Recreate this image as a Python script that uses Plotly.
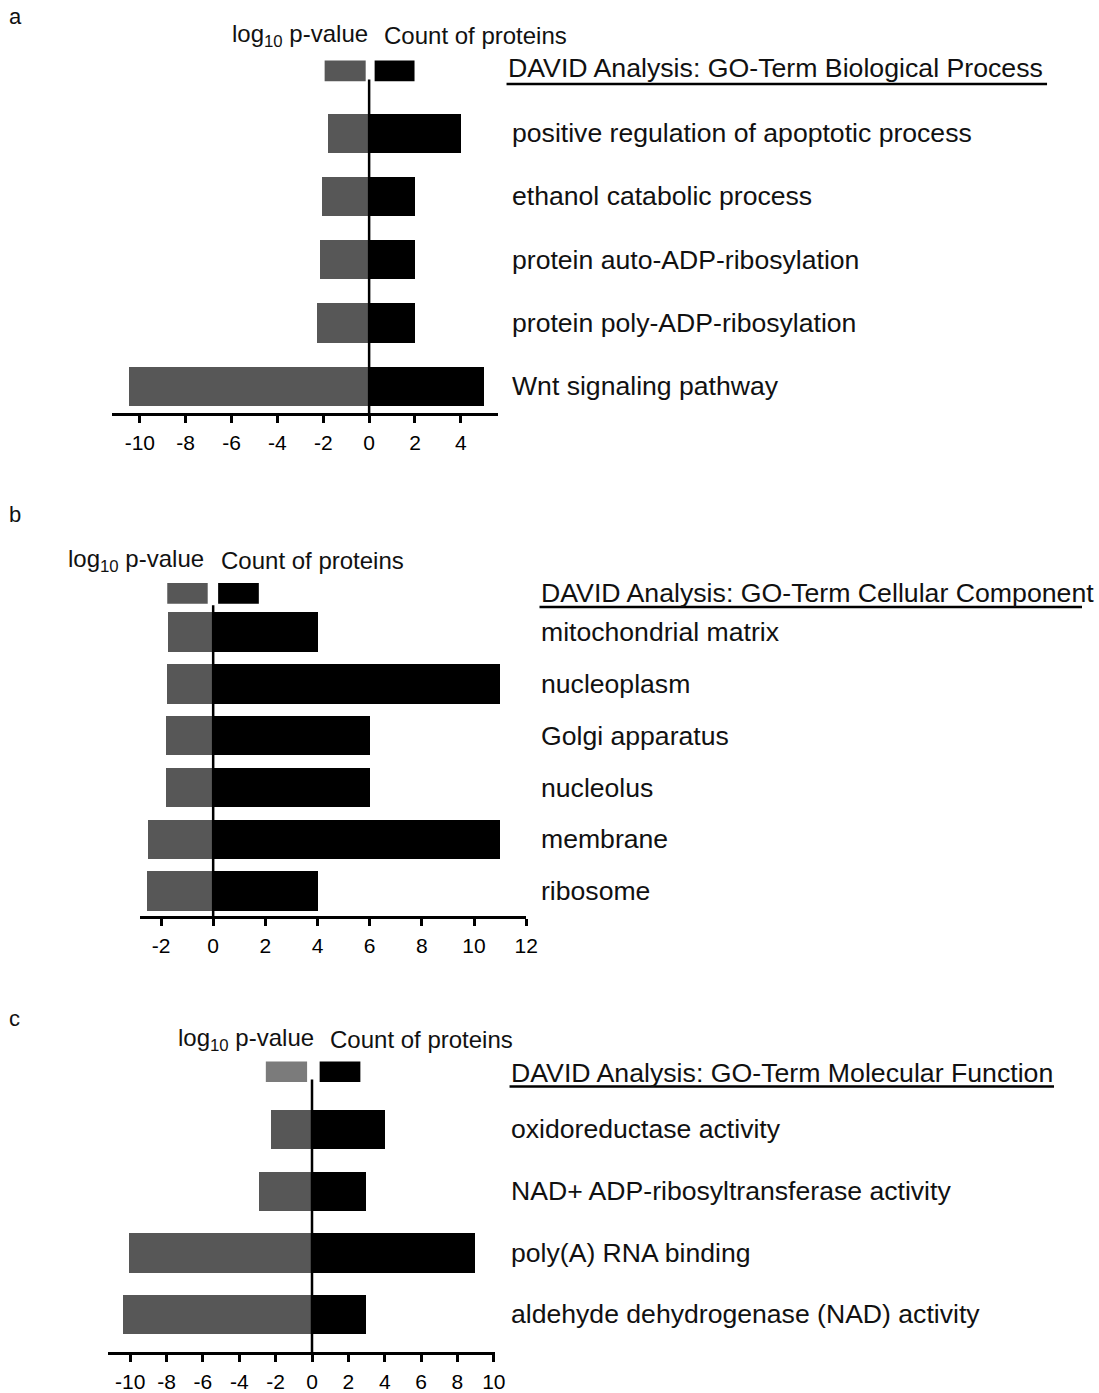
import plotly.graph_objects as go

# ---- data -------------------------------------------------------------
bp_terms = ["positive regulation of apoptotic process", "ethanol catabolic process",
            "protein auto-ADP-ribosylation", "protein poly-ADP-ribosylation",
            "Wnt signaling pathway"]
bp_log10p = [-1.79, -2.08, -2.18, -2.29, -10.48]
bp_counts = [4, 2, 2, 2, 5]

cc_terms = ["mitochondrial matrix", "nucleoplasm", "Golgi apparatus", "nucleolus",
            "membrane", "ribosome"]
cc_log10p = [-1.74, -1.77, -1.81, -1.82, -2.49, -2.55]
cc_counts = [4, 11, 6, 6, 11, 4]

mf_terms = ["oxidoreductase activity", "NAD+ ADP-ribosyltransferase activity",
            "poly(A) RNA binding", "aldehyde dehydrogenase (NAD) activity"]
mf_log10p = [-2.23, -2.93, -10.07, -10.38]
mf_counts = [4, 3, 9, 3]

bp_ticks = [-10, -8, -6, -4, -2, 0, 2, 4]
cc_ticks = [-2, 0, 2, 4, 6, 8, 10, 12]
mf_ticks = [-10, -8, -6, -4, -2, 0, 2, 4, 6, 8, 10]

titles = ["DAVID Analysis: GO-Term Biological Process",
          "DAVID Analysis: GO-Term Cellular Component",
          "DAVID Analysis: GO-Term Molecular Function"]

# ---- page geometry ----------------------------------------------------
W, H = 1099, 1393
# usable drawing size of the page in the viewer (pixels)
W_EFF, H_EFF = 1088, 1393
FONT = "Liberation Sans, Arial, sans-serif"
GRAY = "#575757"
TXT = "#111111"


def px(x):
    return x / W_EFF


def py(y):
    return 1 - y / H_EFF


panels = [
    dict(terms=bp_terms, logp=bp_log10p, counts=bp_counts, ticks=bp_ticks,
         xpx=(111.7, 498), xr=(-11.23, 5.60), ypx=(55, 415), yr=(4.428, -1.243),
         width=0.62, zero_top=-0.849, leg_y=(-1.153, -0.822),
         leg_gray=(-1.94, -0.15), leg_black=(0.24, 1.98), leg_gray_col=GRAY,
         label_x=510, title_x=506, title_y=68, ul=(507, 1048, 84.5),
         legtxt=(230, 382, 36), letter=("a", 17)),
    dict(terms=cc_terms, logp=cc_log10p, counts=cc_counts, ticks=cc_ticks,
         xpx=(140, 526.7), xr=(-2.81, 12.0), ypx=(580, 920.7), yr=(5.481, -1.065),
         width=0.76, zero_top=-0.521, leg_y=(-0.949, -0.551),
         leg_gray=(-1.76, -0.21), leg_black=(0.19, 1.75), leg_gray_col=GRAY,
         label_x=539, title_x=539, title_y=596, ul=(540, 1083, 610),
         legtxt=(66, 219, 563), letter=("b", 517)),
    dict(terms=mf_terms, logp=mf_log10p, counts=mf_counts, ticks=mf_ticks,
         xpx=(108.3, 495), xr=(-11.21, 10.04), ypx=(1060, 1359), yr=(3.613, -1.21),
         width=0.64, zero_top=-0.806, leg_y=(-1.10, -0.768),
         leg_gray=(-2.54, -0.27), leg_black=(0.42, 2.66), leg_gray_col="#7b7b7b",
         label_x=509, title_x=509, title_y=1078, ul=(510, 1055, 1092),
         legtxt=(176, 328, 1045), letter=("c", 1024)),
]

fig = go.Figure()
shapes, annotations = [], []
layout_axes = {}

for k, p in enumerate(panels, start=1):
    xa = "x" if k == 1 else f"x{k}"
    ya = "y" if k == 1 else f"y{k}"
    xkey = "xaxis" if k == 1 else f"xaxis{k}"
    ykey = "yaxis" if k == 1 else f"yaxis{k}"

    fig.add_trace(go.Bar(y=p["terms"], x=p["logp"], orientation="h", width=p["width"],
                         marker=dict(color=GRAY, line=dict(width=0)),
                         xaxis=xa, yaxis=ya, showlegend=False))
    fig.add_trace(go.Bar(y=p["terms"], x=p["counts"], orientation="h", width=p["width"],
                         marker=dict(color="#000000", line=dict(width=0)),
                         xaxis=xa, yaxis=ya, showlegend=False))

    layout_axes[xkey] = dict(
        domain=[px(p["xpx"][0]), px(p["xpx"][1])], range=list(p["xr"]), anchor=ya,
        showline=True, linewidth=2.5, linecolor="black", showgrid=False, zeroline=False,
        ticks="outside", ticklen=7, tickwidth=2.5, tickcolor="black",
        ticklabelstandoff=2,
        tickvals=p["ticks"], ticktext=[str(t) for t in p["ticks"]],
        tickfont=dict(family=FONT, size=21, color="black"), fixedrange=True)
    layout_axes[ykey] = dict(
        domain=[py(p["ypx"][1]), py(p["ypx"][0])], type="category",
        categoryorder="array", categoryarray=p["terms"], range=list(p["yr"]),
        anchor=xa, showline=False, showgrid=False, zeroline=False,
        showticklabels=False, ticks="", fixedrange=True)

    # zero line between the two halves
    shapes.append(dict(type="line", xref=xa, yref=ya, x0=0, x1=0,
                       y0=p["yr"][0], y1=p["zero_top"],
                       line=dict(color="black", width=2.5)))
    # key swatches above the bars
    shapes.append(dict(type="rect", xref=xa, yref=ya, x0=p["leg_gray"][0], x1=p["leg_gray"][1],
                       y0=p["leg_y"][0], y1=p["leg_y"][1], fillcolor=p["leg_gray_col"],
                       line=dict(width=0)))
    shapes.append(dict(type="rect", xref=xa, yref=ya, x0=p["leg_black"][0], x1=p["leg_black"][1],
                       y0=p["leg_y"][0], y1=p["leg_y"][1], fillcolor="#000000",
                       line=dict(width=0)))
    # title underline
    ux0, ux1, uy = p["ul"]
    shapes.append(dict(type="line", xref="paper", yref="paper", x0=px(ux0), x1=px(ux1),
                       y0=py(uy), y1=py(uy), line=dict(color="black", width=2.5)))

    # term labels
    for t in p["terms"]:
        annotations.append(dict(xref="paper", yref=ya, x=px(p["label_x"]), y=t, text=t,
                                showarrow=False, xanchor="left", yanchor="middle",
                                font=dict(family=FONT, size=26.6, color=TXT)))
    annotations.append(dict(xref="paper", yref="paper", x=px(p["title_x"]), y=py(p["title_y"]),
                            text=titles[k - 1], showarrow=False, xanchor="left",
                            yanchor="middle", font=dict(family=FONT, size=26.7, color=TXT)))
    lx1, lx2, ly = p["legtxt"]
    annotations.append(dict(xref="paper", yref="paper", x=px(lx1), y=py(ly),
                            text="log<sub>10</sub> p-value", showarrow=False, xanchor="left",
                            yanchor="middle", font=dict(family=FONT, size=24, color=TXT)))
    annotations.append(dict(xref="paper", yref="paper", x=px(lx2), y=py(ly),
                            text="Count of proteins", showarrow=False, xanchor="left",
                            yanchor="middle", font=dict(family=FONT, size=24, color=TXT)))
    letter, ly2 = p["letter"]
    annotations.append(dict(xref="paper", yref="paper", x=px(7), y=py(ly2), text=letter,
                            showarrow=False, xanchor="left", yanchor="middle",
                            font=dict(family=FONT, size=22, color=TXT)))

fig.update_layout(
    width=W, height=H, margin=dict(l=0, r=0, t=0, b=0),
    paper_bgcolor="white", plot_bgcolor="white", barmode="overlay",
    bargap=0, shapes=shapes, annotations=annotations, **layout_axes)

fig.write_html("out.html")
